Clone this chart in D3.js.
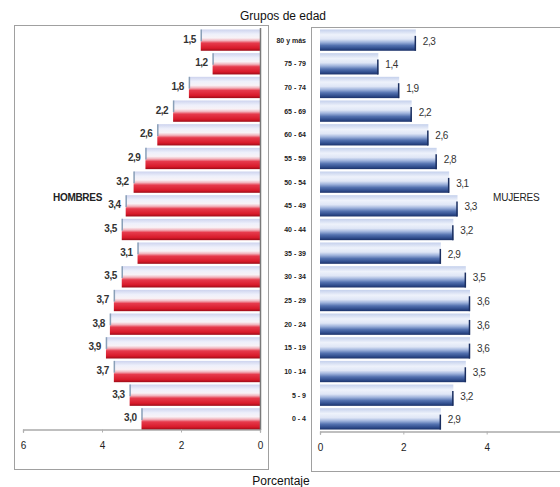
<!DOCTYPE html>
<html>
<head>
<meta charset="utf-8">
<script src="https://cdn.jsdelivr.net/npm/d3@7"></script>
<style>
  body { margin: 0; background: #fff; }
  svg { display: block; font-family: "Liberation Sans", Arial, sans-serif; }
</style>
</head>
<body>
<svg id="chart" width="560" height="487"></svg>
<script>
// age groups, top to bottom
const groups = ["80 y más", "75 - 79", "70 - 74", "65 - 69", "60 - 64", "55 - 59", "50 - 54",
  "45 - 49", "40 - 44", "35 - 39", "30 - 34", "25 - 29", "20 - 24", "15 - 19", "10 - 14", "5 - 9", "0 - 4"];
const hombres = [1.5, 1.2, 1.8, 2.2, 2.6, 2.9, 3.2, 3.4, 3.5, 3.1, 3.5, 3.7, 3.8, 3.9, 3.7, 3.3, 3.0];
const mujeres = [2.3, 1.4, 1.9, 2.2, 2.6, 2.8, 3.1, 3.3, 3.2, 2.9, 3.5, 3.6, 3.6, 3.6, 3.5, 3.2, 2.9];
const ticksL = [0, 2, 4, 6];
const ticksR = [0, 2, 4];

const svg = d3.select('#chart');
const fmt = v => d3.format('.1f')(v).replace('.', ',');

const defs = svg.append('defs');
function grad(id, stops) {
  const g = defs.append('linearGradient').attr('id', id)
    .attr('x1', 0).attr('y1', 0).attr('x2', 0).attr('y2', 1);
  stops.forEach(s => g.append('stop').attr('offset', s[0]).attr('stop-color', s[1]));
}
grad('gRed', [[0, '#cdd3ee'], [0.22, '#eef0fb'], [0.4, '#f8f2f6'], [0.52, '#f2b4bd'], [0.64, '#e63a4c'], [0.88, '#d81a2a'], [1, '#9c0c18']]);
grad('gBlue', [[0, '#c4d0ec'], [0.25, '#eef2fb'], [0.45, '#dfe6f6'], [0.6, '#9fb3dc'], [0.75, '#5472b0'], [0.9, '#2f4c8c'], [1, '#1b3168']]);

const y = d3.scaleBand().domain(groups).range([29, 430]).paddingInner(0.1).paddingOuter(0.02);
const xL = d3.scaleLinear().domain([0, 6]).range([260, 23]);
const xR = d3.scaleLinear().domain([0, 6]).range([320, 570]);

// panel boxes
svg.append('rect').attr('x', 14.5).attr('y', 25.5).attr('width', 254).attr('height', 444)
  .attr('fill', 'none').attr('stroke', '#a0a0a0');
svg.append('rect').attr('x', 311.5).attr('y', 27.5).attr('width', 260).attr('height', 444)
  .attr('fill', 'none').attr('stroke', '#a0a0a0');

// left bars (hombres)
const left = svg.append('g');
left.selectAll('rect').data(groups).join('rect')
  .attr('x', (d, i) => xL(hombres[i]))
  .attr('y', d => y(d))
  .attr('width', (d, i) => xL(0) - xL(hombres[i]))
  .attr('height', y.bandwidth())
  .attr('fill', 'url(#gRed)');
left.selectAll('line.edge').data(groups).join('line').attr('class', 'edge')
  .attr('x1', (d, i) => xL(hombres[i]) + 0.5).attr('x2', (d, i) => xL(hombres[i]) + 0.5)
  .attr('y1', d => y(d)).attr('y2', d => y(d) + y.bandwidth() * 0.55)
  .attr('stroke', '#8aa0b8').attr('stroke-width', 1.5);
left.selectAll('text').data(groups).join('text')
  .attr('x', (d, i) => xL(hombres[i]) - 5)
  .attr('y', d => y(d) + y.bandwidth() / 2 - 1)
  .attr('dy', '0.35em').attr('text-anchor', 'end')
  .attr('font-size', 10).attr('font-weight', 'bold').attr('fill', '#333')
  .attr('letter-spacing', -0.5)
  .text((d, i) => fmt(hombres[i]));

// right bars (mujeres)
const right = svg.append('g');
right.selectAll('rect').data(groups).join('rect')
  .attr('x', xR(0))
  .attr('y', d => y(d))
  .attr('width', (d, i) => xR(mujeres[i]) - xR(0))
  .attr('height', y.bandwidth())
  .attr('fill', 'url(#gBlue)');
right.selectAll('line.edge').data(groups).join('line').attr('class', 'edge')
  .attr('x1', (d, i) => xR(mujeres[i]) - 0.5).attr('x2', (d, i) => xR(mujeres[i]) - 0.5)
  .attr('y1', d => y(d) + y.bandwidth() * 0.3).attr('y2', d => y(d) + y.bandwidth())
  .attr('stroke', '#1b2f60').attr('stroke-width', 1.5);
right.selectAll('text').data(groups).join('text')
  .attr('x', (d, i) => xR(mujeres[i]) + 7)
  .attr('y', d => y(d) + y.bandwidth() / 2 + 1)
  .attr('dy', '0.35em')
  .attr('font-size', 10).attr('fill', '#333')
  .attr('letter-spacing', -0.5)
  .text((d, i) => fmt(mujeres[i]));

// zero line of the left panel
svg.append('line').attr('x1', xL(0) + 0.5).attr('x2', xL(0) + 0.5).attr('y1', 28).attr('y2', 430)
  .attr('stroke', '#7a7a7a').attr('stroke-width', 1.5);

// axes
const axL = svg.append('g').attr('transform', 'translate(0,429.5)')
  .call(d3.axisBottom(xL).tickValues(ticksL).tickSize(3).tickFormat(d3.format('d')));
const axR = svg.append('g').attr('transform', 'translate(0,431.5)')
  .call(d3.axisBottom(xR).tickValues(ticksR).tickSize(3).tickFormat(d3.format('d')));
[axL, axR].forEach(ax => {
  ax.select('.domain').attr('stroke', '#808080').attr('stroke-width', 1.2);
  ax.selectAll('.tick line').attr('stroke', '#b0b0b0');
  ax.selectAll('.tick text').attr('font-size', 10).attr('fill', '#222').attr('dy', '1.3em');
});

// age group labels
svg.append('g').selectAll('text').data(groups).join('text')
  .attr('x', 306).attr('y', d => y(d) + y.bandwidth() / 2)
  .attr('dy', '0.35em').attr('text-anchor', 'end')
  .attr('font-size', 7).attr('font-weight', 'bold').attr('fill', '#222')
  .text(d => d);

// titles
svg.append('text').attr('x', 283).attr('y', 20).attr('text-anchor', 'middle')
  .attr('font-size', 12).attr('fill', '#111').text('Grupos de edad');
svg.append('text').attr('x', 281).attr('y', 485).attr('text-anchor', 'middle')
  .attr('font-size', 12).attr('fill', '#111').text('Porcentaje');
svg.append('text').attr('x', 53).attr('y', 201)
  .attr('font-size', 10).attr('font-weight', 'bold').attr('fill', '#222').attr('letter-spacing', -0.3).text('HOMBRES');
svg.append('text').attr('x', 493).attr('y', 201)
  .attr('font-size', 10).attr('fill', '#222').attr('letter-spacing', -0.2).text('MUJERES');
</script>
</body>
</html>
